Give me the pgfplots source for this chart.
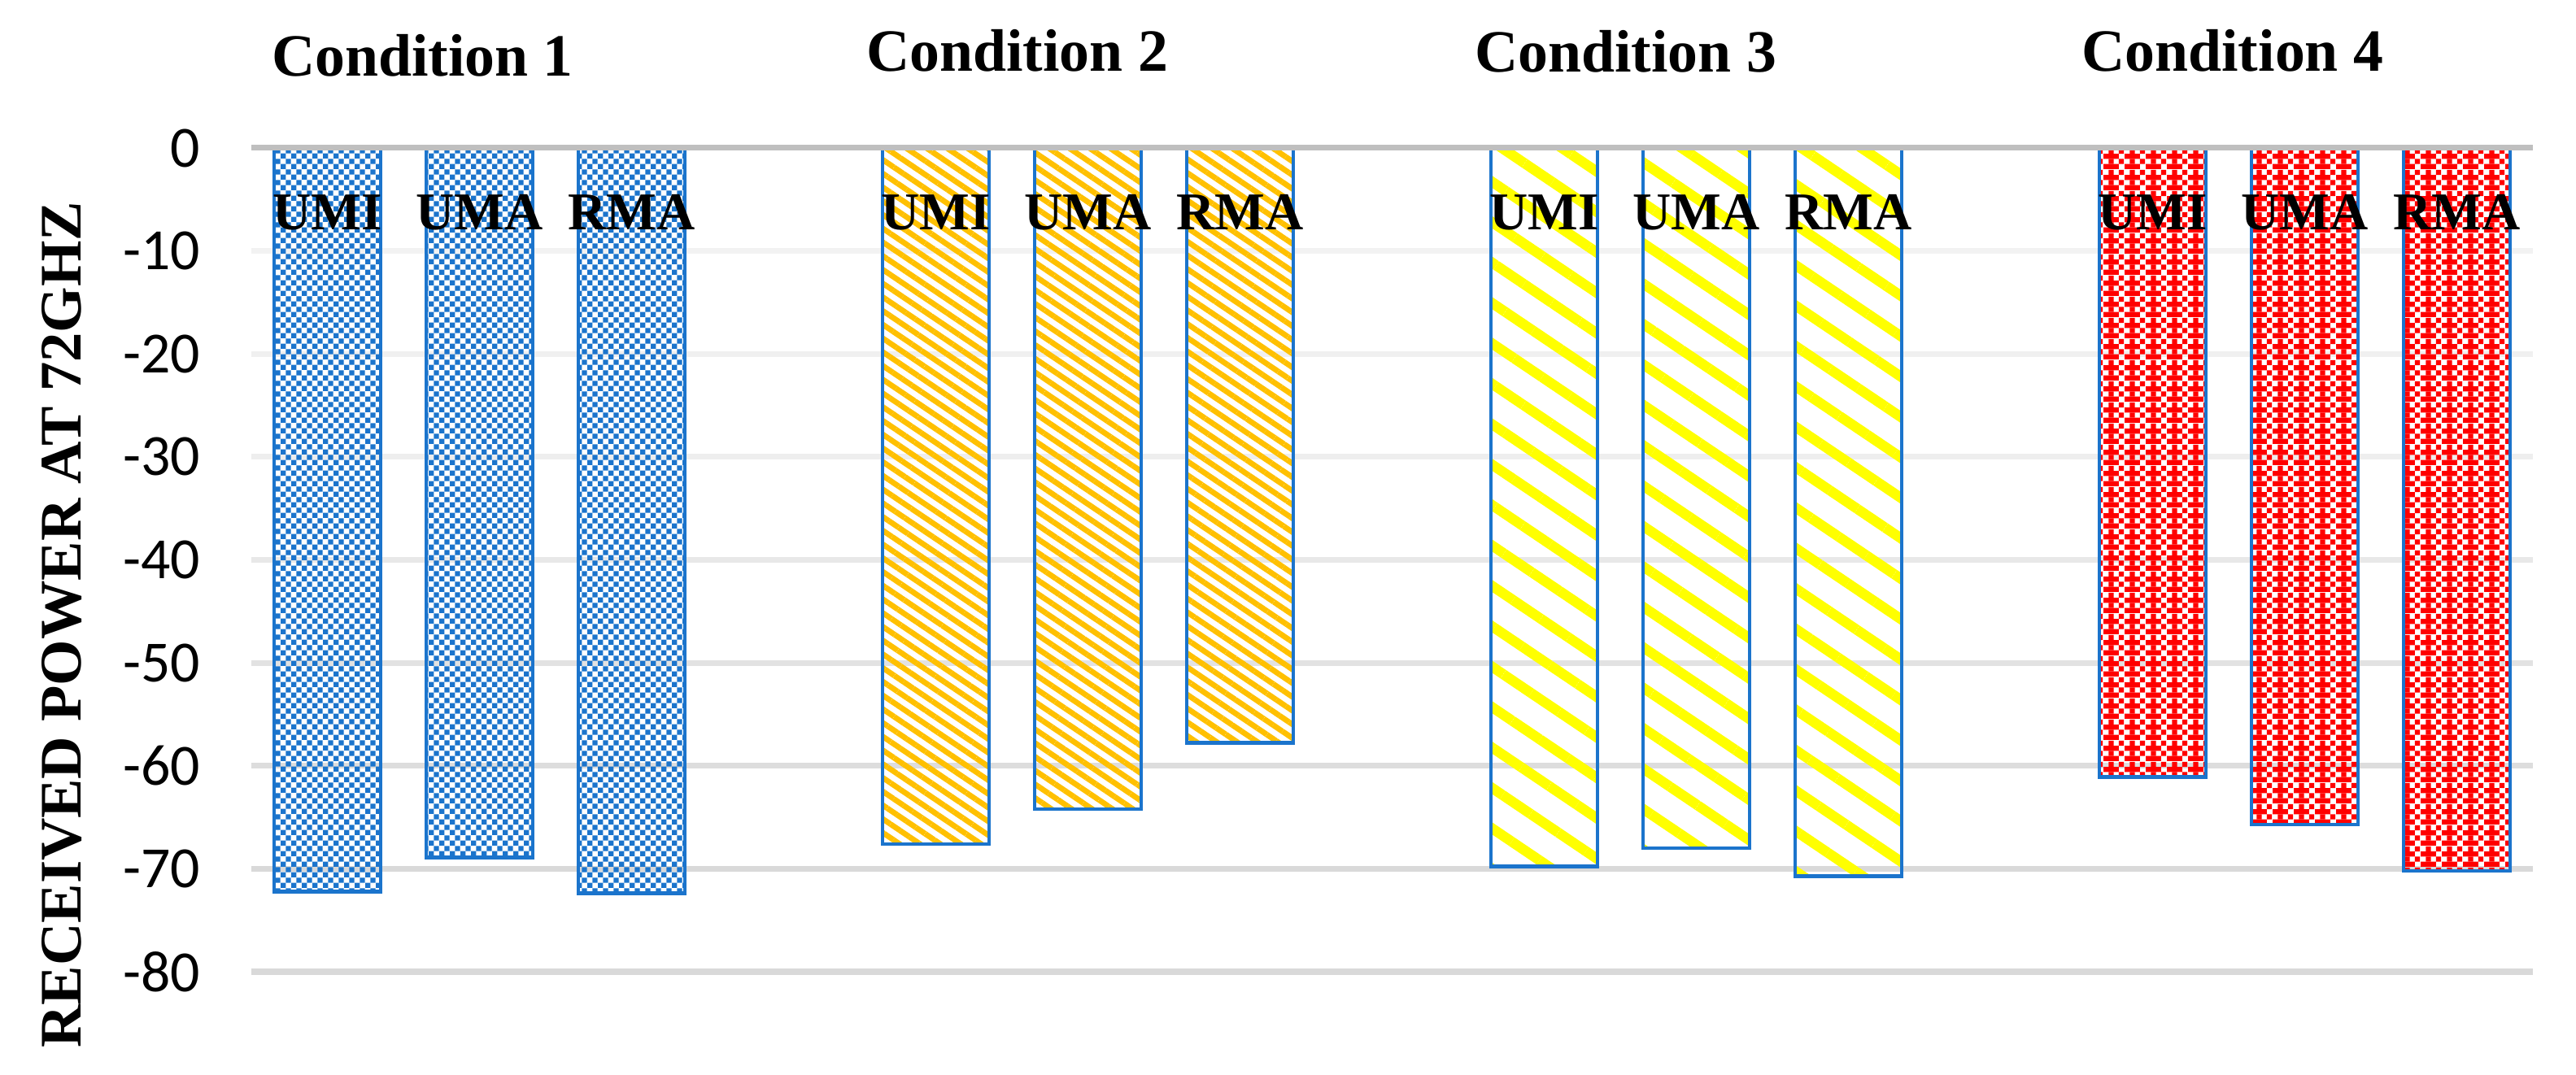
\documentclass[border=0pt]{standalone}
\usepackage{fontspec}
\setmainfont{Liberation Serif}
\newfontfamily\tickfont{Carlito}
\usepackage{pgfplots}
\pgfplotsset{compat=1.18}
\usetikzlibrary{patterns,patterns.meta}
\definecolor{barblue}{RGB}{27,116,204}
\definecolor{barorange}{RGB}{255,192,0}
\definecolor{baryellow}{RGB}{255,255,0}
\definecolor{barred}{RGB}{255,0,0}
\definecolor{axisgray}{RGB}{191,191,191}

\tikzdeclarepattern{
  name=smallcheck,
  type=uncolored,
  bottom left={(0,0)},
  top right={(3.2bp,3.2bp)},
  tile size={(3.2bp,3.2bp)},
  code={
    \fill (0,0) rectangle (1.6bp,1.6bp);
    \fill (1.6bp,1.6bp) rectangle (3.2bp,3.2bp);
  }
}
\tikzdeclarepattern{
  name=redcheck,
  type=uncolored,
  bottom left={(0,0)},
  top right={(6.4bp,6.4bp)},
  tile size={(6.4bp,6.4bp)},
  code={
    \fill (0,0) rectangle (4.8bp,1.6bp);
    \fill (1.6bp,1.6bp) rectangle (3.2bp,3.2bp);
    \fill (4.8bp,1.6bp) rectangle (6.4bp,3.2bp);
    \fill (0,3.2bp) rectangle (4.8bp,4.8bp);
    \fill (1.6bp,4.8bp) rectangle (3.2bp,6.4bp);
    \fill (4.8bp,4.8bp) rectangle (6.4bp,6.4bp);
  }
}

\begin{document}
\begin{tikzpicture}
\begin{axis}[
  set layers,
  scale only axis, width=701.25bp, height=253.25bp,
  xmin=-0.5, xmax=14.5, ymin=-80, ymax=0,
  axis line style={draw=none},
  xtick=\empty,
  ytick={-80,-70,-60,-50,-40,-30,-20,-10,0},
  major tick length=0pt,
  tick style={draw=none},
  /pgf/number format/assume math mode=true,
  yticklabel style={font=\tickfont\fontsize{18}{20}\selectfont, xshift=-12.25bp},
  ybar, bar width=0.7, bar shift=0pt,
  clip=false,
]
\begin{pgfonlayer}{axis background}
\draw[line width=1.75bp, color={rgb,255:red,242;green,242;blue,242}] (axis cs:-0.5,-10) -- (axis cs:14.5,-10);
\draw[line width=1.75bp, color={rgb,255:red,240;green,240;blue,240}] (axis cs:-0.5,-20) -- (axis cs:14.5,-20);
\draw[line width=1.75bp, color={rgb,255:red,238;green,238;blue,238}] (axis cs:-0.5,-30) -- (axis cs:14.5,-30);
\draw[line width=1.75bp, color={rgb,255:red,232;green,232;blue,232}] (axis cs:-0.5,-40) -- (axis cs:14.5,-40);
\draw[line width=1.75bp, color={rgb,255:red,226;green,226;blue,226}] (axis cs:-0.5,-50) -- (axis cs:14.5,-50);
\draw[line width=1.75bp, color={rgb,255:red,221;green,221;blue,221}] (axis cs:-0.5,-60) -- (axis cs:14.5,-60);
\draw[line width=1.75bp, color={rgb,255:red,217;green,217;blue,217}] (axis cs:-0.5,-70) -- (axis cs:14.5,-70);
\draw[line width=1.75bp, color={rgb,255:red,217;green,217;blue,217}] (axis cs:-0.5,-80) -- (axis cs:14.5,-80);
\end{pgfonlayer}

\addplot[draw=barblue, line width=1.2bp, pattern=smallcheck, pattern color=barblue]
  coordinates {(0,-72.2) (1,-68.9) (2,-72.4)};
\addplot[draw=barblue, line width=1.2bp, pattern={Lines[angle=-34,distance=3.5bp,line width=1.7bp]}, pattern color=barorange]
  coordinates {(4,-67.6) (5,-64.2) (6,-57.8)};
\addplot[draw=barblue, line width=1.2bp, pattern={Lines[angle=-34,distance=10.3bp,line width=3.1bp]}, pattern color=baryellow]
  coordinates {(8,-69.8) (9,-68.0) (10,-70.7)};
\addplot[draw=barblue, line width=1.2bp, pattern=redcheck, pattern color=barred]
  coordinates {(12,-61.1) (13,-65.7) (14,-70.2)};

\draw[axisgray, line width=1.75bp] (axis cs:-0.5,0) -- (axis cs:14.5,0);

\begin{scope}[every node/.style={font=\bfseries\fontsize{16.4}{18}\selectfont, anchor=base, inner sep=0pt}]
\node at (axis cs:0,-7.9) {UMI};
\node at (axis cs:1,-7.9) {UMA};
\node at (axis cs:2,-7.9) {RMA};
\node at (axis cs:4,-7.9) {UMI};
\node at (axis cs:5,-7.9) {UMA};
\node at (axis cs:6,-7.9) {RMA};
\node at (axis cs:8,-7.9) {UMI};
\node at (axis cs:9,-7.9) {UMA};
\node at (axis cs:10,-7.9) {RMA};
\node at (axis cs:12,-7.9) {UMI};
\node at (axis cs:13,-7.9) {UMA};
\node at (axis cs:14,-7.9) {RMA};
\end{scope}

\begin{scope}[every node/.style={font=\bfseries\fontsize{18.5}{20}\selectfont, anchor=base west, inner sep=0pt}]
\node at (axis cs:-0.37,7.0) {Condition 1};
\node at (axis cs:3.54,7.5) {Condition 2};
\node at (axis cs:7.54,7.4) {Condition 3};
\node at (axis cs:11.53,7.5) {Condition 4};
\end{scope}

\node[rotate=90, font=\bfseries\fontsize{18.2}{20}\selectfont, inner sep=0pt] at (axis cs:-1.746,-46.3) {RECEIVED POWER AT 72GHZ};
\end{axis}
\pgfresetboundingbox
\path[use as bounding box] (current axis.south west) ++(-77.25bp,-31.75bp) rectangle ++(791.75bp,330.5bp);
\end{tikzpicture}
\end{document}
